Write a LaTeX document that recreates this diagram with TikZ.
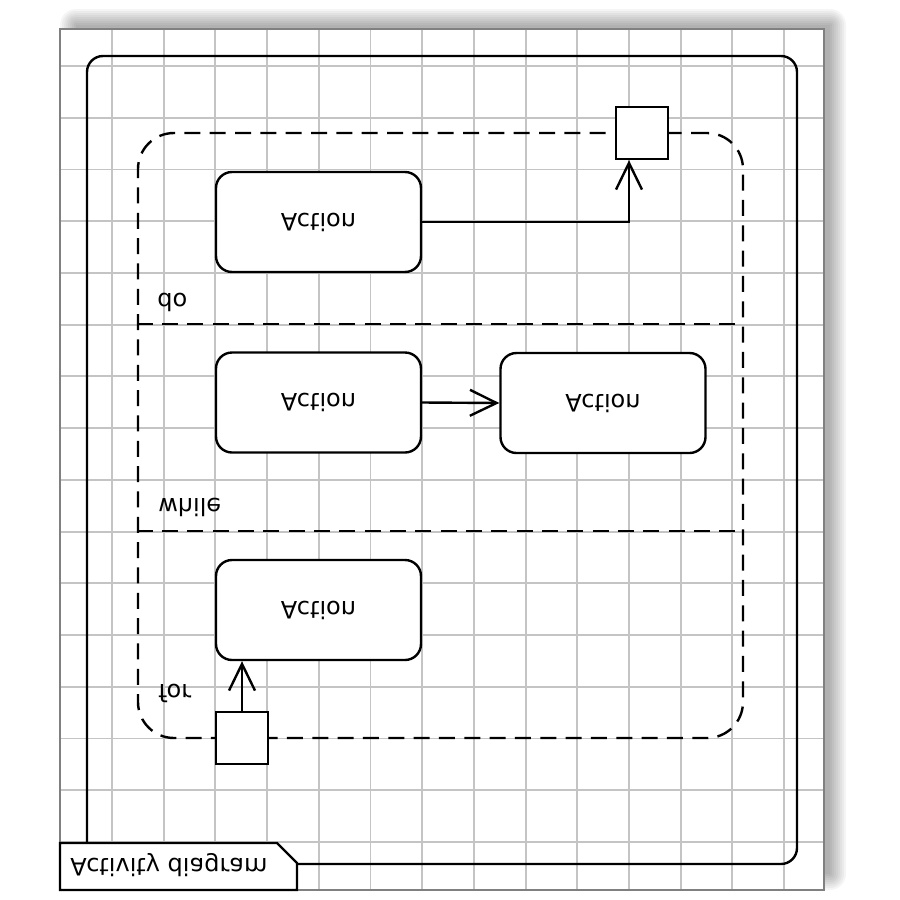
\documentclass[tikz,border=0pt]{standalone}
\usepackage{fontspec}
\setmainfont{DejaVu Sans}
\usepackage{graphicx}
\usetikzlibrary{arrows.meta,calc}
\newcommand{\flipv}[1]{\scalebox{1}[-1]{#1}}
\begin{document}
\begin{tikzpicture}[x=0.75pt,y=-0.75pt,
  gridline/.style={draw=black!23,line width=1.4pt},
  canvasborder/.style={draw=black!50,line width=1.6pt},
  framebox/.style={draw=black,line width=1.8pt,rounded corners=12pt,inner sep=0pt},
  regionbox/.style={draw=black,line width=1.8pt,rounded corners=27pt,dash pattern=on 12pt off 7pt,inner sep=0pt},
  dividerline/.style={draw=black,line width=1.8pt,dash pattern=on 12pt off 7pt},
  actionbox/.style={draw=black,fill=white,line width=1.8pt,rounded corners=12pt,minimum width=153.75pt,minimum height=75pt,inner sep=0pt,font=\fontsize{18}{20}\selectfont},
  pinbox/.style={draw=black,fill=white,line width=1.8pt,minimum size=39pt,inner sep=0pt},
  lbl/.style={inner sep=0pt,font=\fontsize{18}{20}\selectfont},
  flowarrow/.style={draw=black,line width=1.8pt,-{Straight Barb[length=20pt,width=19.5pt]}}]
\useasboundingbox (0,0) rectangle (900,900);
% shadow
\foreach \e in {0,2,...,16}{
  \fill[black,opacity=0.04,rounded corners=\e*0.75pt] (76-\e,25-\e) rectangle (830+\e,874+\e);
}
% canvas with grid
\fill[white] (60,29) rectangle (824,890);
\foreach \i in {0,...,13}{
  \draw[gridline] ({112+51.7*\i},29) -- ({112+51.7*\i},890);
}
\foreach \j in {0,...,15}{
  \draw[gridline] (60,{66+51.73*\j}) -- (824,{66+51.73*\j});
}
\draw[canvasborder] (60,29) rectangle (824,890);
% activity frame
\node[framebox,minimum width=532.5pt,minimum height=606pt] (frame) at (442,460) {};
% tab
\draw[fill=white,line width=1.8pt] (60,843) -- (277,843) -- (297,863) -- (297,890) -- (60,890) -- cycle;
\node[lbl,anchor=west] (title) at (70,865) {\flipv{Activity diagram}};
% loop region
\node[regionbox,minimum width=453.75pt,minimum height=453.75pt] (region) at (440.5,435.5) {};
\coordinate (d1) at (0,324);
\coordinate (d2) at (0,531);
\draw[dividerline] (region.west |- d1) -- (region.east |- d1);
\draw[dividerline] (region.west |- d2) -- (region.east |- d2);
\node[lbl,anchor=base west] (lblDo) at (157,293) {\flipv{do}};
\node[lbl,anchor=base west] (lblWhile) at (158,498) {\flipv{while}};
\node[lbl,anchor=base west] (lblFor) at (158,684) {\flipv{for}};
% actions
\node[actionbox] (a1) at (318.5,222) {\flipv{Action}};
\node[actionbox] (a2) at (318.5,402.5) {\flipv{Action}};
\node[actionbox] (a3) at (603,403) {\flipv{Action}};
\node[actionbox] (a4) at (318.5,610) {\flipv{Action}};
% pins
\node[pinbox] (pinT) at (642,133) {};
\node[pinbox] (pinB) at (242,738) {};
% flows
\draw[flowarrow] (a1.east) -| ([xshift=-9.75pt]pinT.south);
\draw[flowarrow] (a2.east) -- (a3.west);
\draw[flowarrow] (pinB.north) -- (pinB.north |- a4.south);
\end{tikzpicture}
\end{document}
